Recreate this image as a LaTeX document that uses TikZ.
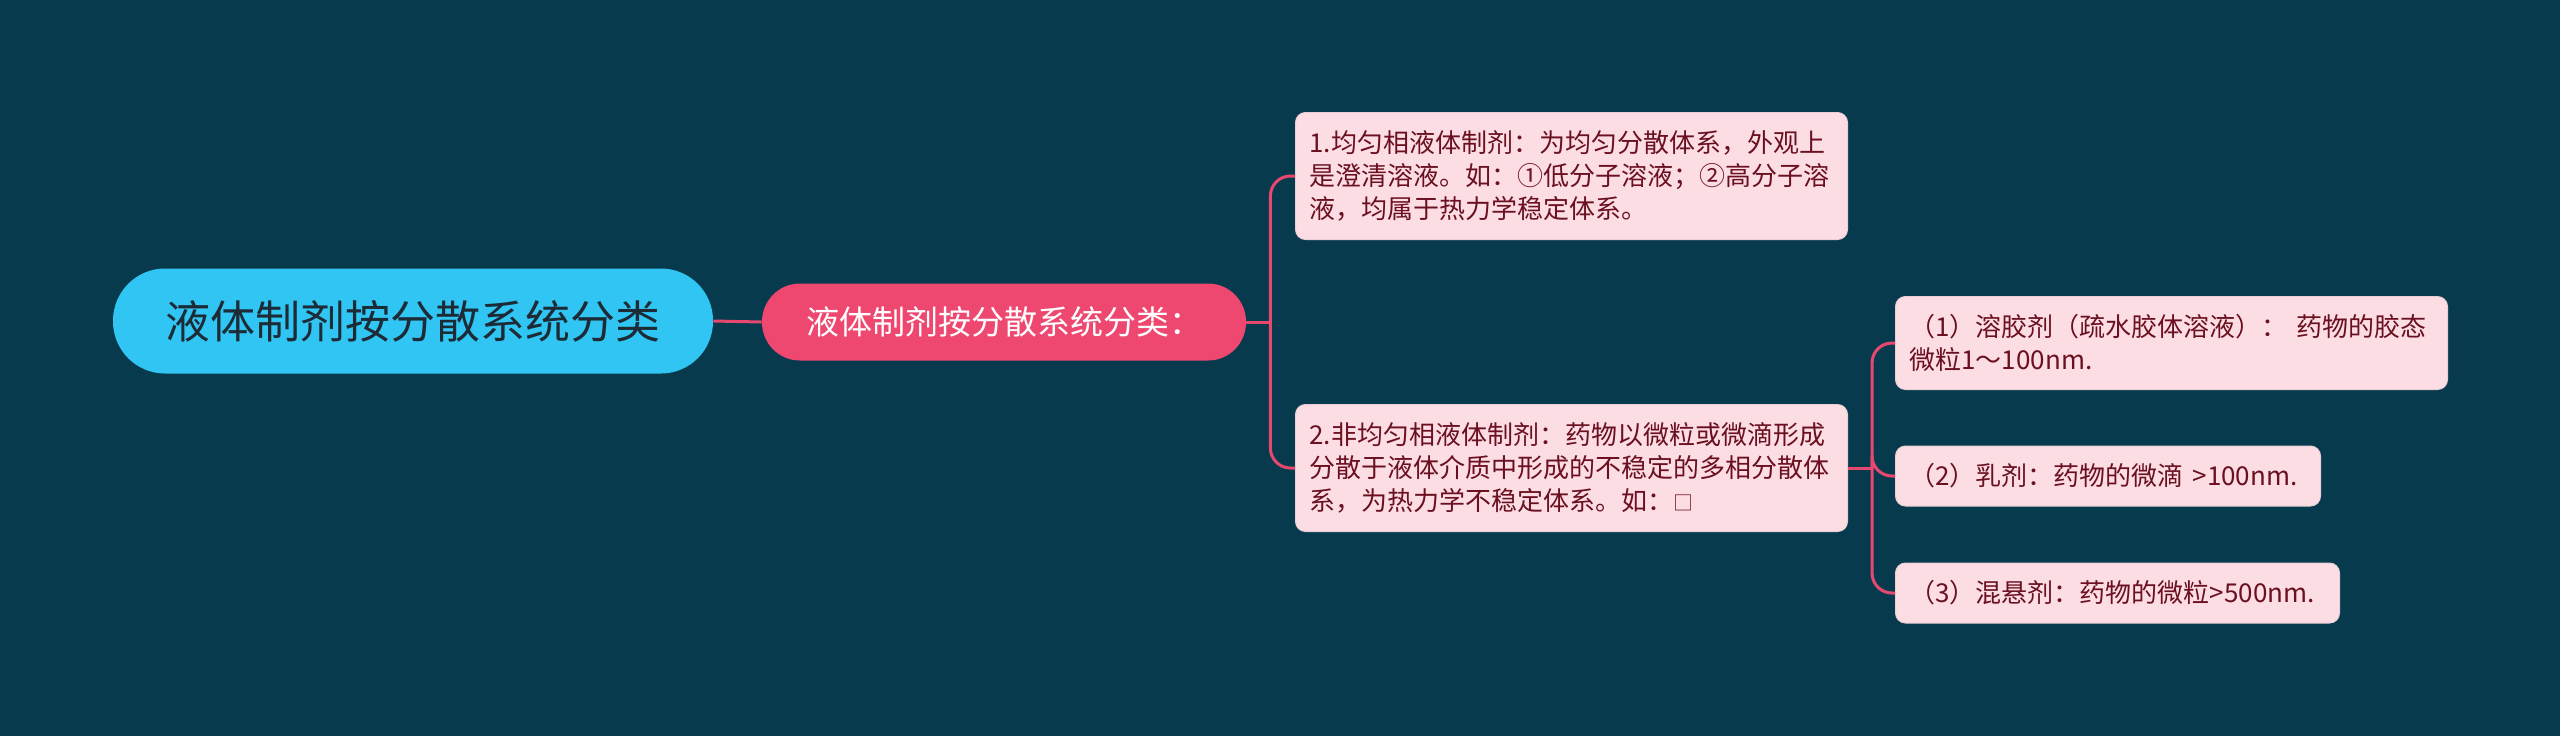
\documentclass[tikz,border=0pt]{standalone}
\usepackage{fontspec}
\setmainfont{Noto Sans CJK SC}
\usetikzlibrary{positioning}
\definecolor{bgteal}{HTML}{073A4D}
\definecolor{rootblue}{HTML}{30C5F3}
\definecolor{roottext}{HTML}{1C2B36}
\definecolor{topicred}{HTML}{EE4870}
\definecolor{leafpink}{HTML}{FCDDE4}
\definecolor{leaftext}{HTML}{6B1020}
\definecolor{linkred}{HTML}{E8486F}

\tikzset{
	root/.style={fill=rootblue,text=roottext,rounded corners=26pt,minimum width=300pt,minimum height=52.5pt,font=\fontsize{22.5}{26}\selectfont},
	topic/.style={fill=topicred,text=white,rounded corners=19pt,minimum width=242pt,minimum height=38.5pt,font=\fontsize{16.5}{20}\selectfont},
	leaf/.style={fill=leafpink,text=leaftext,draw=leafpink!85!gray,line width=0.5pt,rounded corners=5pt,anchor=west,align=left,inner xsep=7pt,font=\fontsize{13}{16.5}\selectfont},
	link/.style={draw=linkred,line width=1.5pt,rounded corners=10pt}
}

\begin{document}
\begin{tikzpicture}[x=0.5pt,y=-0.5pt]
	\fill[bgteal] (0,0) rectangle (2560,736);
	\useasboundingbox (0,0) rectangle (2560,736);
	\node[root] (root) at (413,321) {液体制剂按分散系统分类};
	\node[topic] (topic) at (1004,322) {液体制剂按分散系统分类：};
	\node[leaf,text width=262pt,minimum height=63.5pt] (homo) at (1295,176) {1.均匀相液体制剂：为均匀分散体系，外观上\\是澄清溶液。如：①低分子溶液；②高分子溶\\液，均属于热力学稳定体系。};
	\node[leaf,text width=262pt,minimum height=63.5pt] (hetero) at (1295,468) {2.非均匀相液体制剂：药物以微粒或微滴形成\\分散于液体介质中形成的不稳定的多相分散体\\系，为热力学不稳定体系。如：{\fontsize{10}{16.5}\selectfont □}};
	\node[leaf,text width=262pt,minimum height=46.5pt] (sol) at (1895,343) {（1）溶胶剂（疏水胶体溶液）： 药物的胶态\\微粒1～100nm.};
	\node[leaf,text width=198.5pt,minimum height=30pt] (emul) at (1895,476) {（2）乳剂：药物的微滴 >100nm.};
	\node[leaf,text width=208pt,minimum height=30pt] (susp) at (1895,593) {（3）混悬剂：药物的微粒>500nm.};
	\coordinate (forka) at ([xshift=12pt]topic.east);
	\coordinate (forkb) at ([xshift=12pt]hetero.east);
	\draw[link] (root.east) -- (topic.west);
	\draw[link] (topic.east) -- (forka);
	\draw[link] (forka) |- (homo.west);
	\draw[link] (forka) |- (hetero.west);
	\draw[link] (hetero.east) -- (forkb);
	\draw[link] (forkb) |- (sol.west);
	\draw[link] (forkb) |- (emul.west);
	\draw[link] (forkb) |- (susp.west);
\end{tikzpicture}
\end{document}
